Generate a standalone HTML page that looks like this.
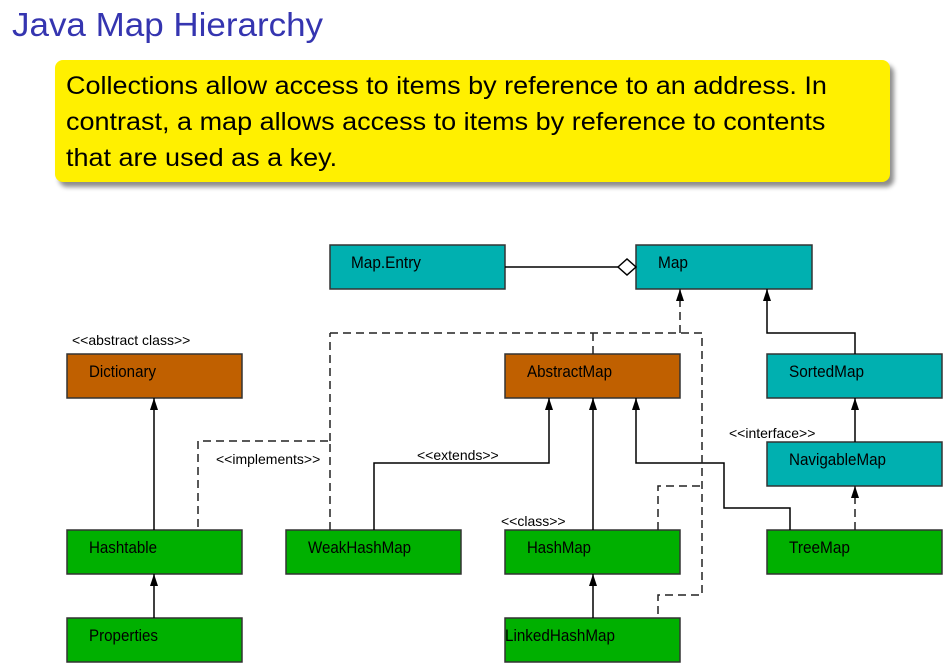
<!DOCTYPE html>
<html><head><meta charset="utf-8"><style>
body{margin:0;width:950px;height:669px;overflow:hidden;background:#fff;position:relative;font-family:"Liberation Sans",sans-serif}
.t{position:absolute;left:12px;top:6px;font-size:33px;color:#3535b0;transform:scaleX(1.06);transform-origin:left;white-space:nowrap}
.y{position:absolute;left:55px;top:60px;width:835px;height:122px;background:#fff000;border-radius:8px;box-shadow:4px 5px 5px rgba(0,0,0,.45)}
.y div{position:absolute;left:11px;top:8px;font-size:25px;line-height:36px;color:#000;transform:scaleX(1.08);transform-origin:left;white-space:nowrap}
svg{position:absolute;left:0;top:0}
.b{font-size:16.5px}
</style></head><body>
<div class="t">Java Map Hierarchy</div>
<div class="y"><div>Collections allow access to items by reference to an address. In<br>contrast, a map allows access to items by reference to contents<br>that are used as a key.</div></div>
<svg width="950" height="669" font-family="Liberation Sans, sans-serif" font-size="15">
<defs><marker id="a" markerWidth="12" markerHeight="8" refX="12" refY="4" orient="auto" markerUnits="userSpaceOnUse"><path d="M0,0 L12,4 L0,8 z" fill="#000"/></marker></defs>
<g stroke="#333" stroke-width="1.5">
<rect x="330" y="245" width="175" height="44" fill="#00b0b0"/>
<rect x="636" y="245" width="176" height="44" fill="#00b0b0"/>
<rect x="67" y="354" width="175" height="44" fill="#c06000"/>
<rect x="505" y="354" width="175" height="44" fill="#c06000"/>
<rect x="767" y="354" width="175" height="44" fill="#00b0b0"/>
<rect x="767" y="442" width="175" height="44" fill="#00b0b0"/>
<rect x="67" y="530" width="175" height="44" fill="#00b000"/>
<rect x="286" y="530" width="175" height="44" fill="#00b000"/>
<rect x="505" y="530" width="175" height="44" fill="#00b000"/>
<rect x="767" y="530" width="175" height="44" fill="#00b000"/>
<rect x="67" y="618" width="175" height="44" fill="#00b000"/>
<rect x="505" y="618" width="175" height="44" fill="#00b000"/>
</g>
<g fill="none" stroke="#000" stroke-width="1.5">
<line x1="505" y1="267" x2="618" y2="267"/>
<path d="M618,267 L627,259 L636,267 L627,275 Z" fill="#fff"/>
<path d="M154,530 V398" marker-end="url(#a)"/>
<path d="M154,618 V574" marker-end="url(#a)"/>
<path d="M374,530 V463 H549 V398" marker-end="url(#a)"/>
<path d="M593,530 V398" marker-end="url(#a)"/>
<path d="M593,618 V574" marker-end="url(#a)"/>
<path d="M790,530 V508 H724 V463 H636 V398" marker-end="url(#a)"/>
<path d="M855,354 V333 H767 V289" marker-end="url(#a)"/>
<path d="M855,442 V398" marker-end="url(#a)"/>
</g>
<g fill="none" stroke="#222" stroke-width="1.5" stroke-dasharray="8,5">
<path d="M680,333 V289" marker-end="url(#a)" />
<path d="M330,333 H702 V595 H658 V618"/>
<path d="M593,333 V354"/>
<path d="M330,530 V441 H198 V530"/>
<path d="M330,441 V333"/>
<path d="M658,530 V486 H702"/>
<path d="M855,530 V486" marker-end="url(#a)"/>
</g>
<g fill="#000">
<g class="b" textLength="0">
<text x="351" y="268" textLength="70" lengthAdjust="spacingAndGlyphs">Map.Entry</text>
<text x="658" y="268" textLength="30" lengthAdjust="spacingAndGlyphs">Map</text>
<text x="89" y="377" textLength="67" lengthAdjust="spacingAndGlyphs">Dictionary</text>
<text x="527" y="377" textLength="85" lengthAdjust="spacingAndGlyphs">AbstractMap</text>
<text x="789" y="377" textLength="75" lengthAdjust="spacingAndGlyphs">SortedMap</text>
<text x="789" y="465" textLength="97" lengthAdjust="spacingAndGlyphs">NavigableMap</text>
<text x="89" y="553" textLength="68" lengthAdjust="spacingAndGlyphs">Hashtable</text>
<text x="308" y="553" textLength="103" lengthAdjust="spacingAndGlyphs">WeakHashMap</text>
<text x="527" y="553" textLength="64" lengthAdjust="spacingAndGlyphs">HashMap</text>
<text x="789" y="553" textLength="61" lengthAdjust="spacingAndGlyphs">TreeMap</text>
<text x="89" y="641" textLength="69" lengthAdjust="spacingAndGlyphs">Properties</text>
<text x="505" y="641" textLength="110" lengthAdjust="spacingAndGlyphs">LinkedHashMap</text>
</g>
<g font-size="14">
<text x="72" y="345">&lt;&lt;abstract class&gt;&gt;</text>
<text x="216" y="464">&lt;&lt;implements&gt;&gt;</text>
<text x="417" y="460">&lt;&lt;extends&gt;&gt;</text>
<text x="501" y="526">&lt;&lt;class&gt;&gt;</text>
<text x="729" y="438">&lt;&lt;interface&gt;&gt;</text>
</g></g>
</svg>
</body></html>
